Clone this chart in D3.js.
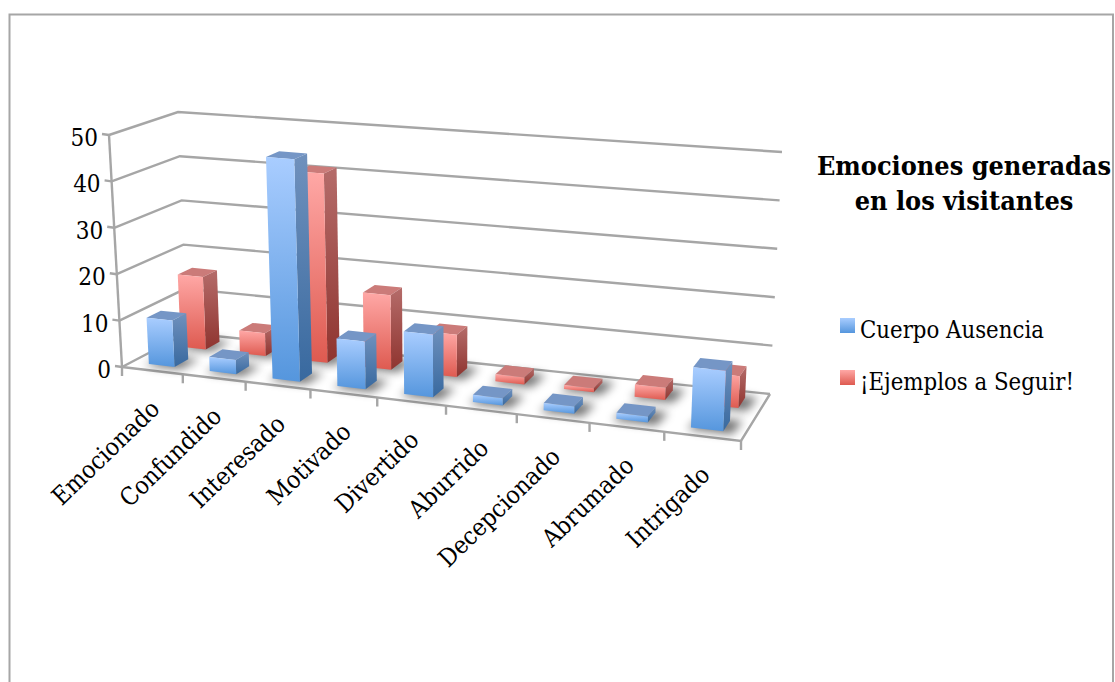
<!DOCTYPE html>
<html><head><meta charset="utf-8">
<script src="https://cdn.jsdelivr.net/npm/d3@7/dist/d3.min.js"></script>
<style>html,body{margin:0;background:#fff}svg{display:block}text{font-family:"DejaVu Serif Condensed","DejaVu Serif",serif;fill:#000}</style>
</head><body><svg id="c" width="1115" height="682"></svg>
<script>
const categories=["Emocionado","Confundido","Interesado","Motivado","Divertido","Aburrido","Decepcionado","Abrumado","Intrigado"];
const seriesNames=["Cuerpo Ausencia","¡Ejemplos a Seguir!"];
const cuerpoAusencia=[10,3,47,10,13,1.5,1.5,1.2,12];
const ejemplosASeguir=[16,5,41,16,9,1.5,0.8,2.5,6.5];
const yTicks=[0,10,20,30,40,50];

const svg=d3.select("#c");
const defs=svg.append("defs");
function grad(id,a,b){const g=defs.append("linearGradient").attr("id",id).attr("x1",0).attr("y1",0).attr("x2",0).attr("y2",1);
 g.append("stop").attr("offset",0).attr("stop-color",a);g.append("stop").attr("offset",1).attr("stop-color",b);}
grad("bf","#a9cdff","#5596dd");grad("bs","#7091bd","#38699f");
grad("rf","#ffa8a6","#de5a50");grad("rs","#b56c6a","#8f342f");
defs.append("filter").attr("id","blur").attr("x","-60%").attr("y","-60%").attr("width","220%").attr("height","220%")
 .append("feGaussianBlur").attr("stdDeviation",5);

// frame
svg.append("path").attr("d","M9.5 682V14.5H1113V682").attr("fill","none").attr("stroke","#a6a6a6").attr("stroke-width",2);

// projection: floor and ceiling quadrilaterals (front-left, front-right, back-right, back-left)
const floorQ=[[122,367],[741,441],[770,394],[187,333]];
const topQ=[[109,135],[752,186],[782,152],[178,112]];
const warp=u=>u*(.87+.13*u);
function quad(q){return (u,d)=>{const w=warp(u);
 const fx=q[0][0]+(q[1][0]-q[0][0])*w,fy=q[0][1]+(q[1][1]-q[0][1])*w;
 const bx=q[3][0]+(q[2][0]-q[3][0])*w,by=q[3][1]+(q[2][1]-q[3][1])*w;
 return [fx+(bx-fx)*d,fy+(by-fy)*d];};}
const hFloor=quad(floorQ),hTop=quad(topQ);
const yS=d3.scaleLinear().domain([0,50]).range([0,1]);
const uS=d3.scaleBand().domain(categories).range([0,1]);
const dS=d3.scalePoint().domain(seriesNames).range([.15,.65]);
const depth=.22,barW=.425;
const P=(u,d,v)=>{const a=hFloor(u,d),b=hTop(u,d),t=yS(v);return [a[0]+(b[0]-a[0])*t,a[1]+(b[1]-a[1])*t];};
const line=d3.line();
const grid="#a6a6a6";

// gridlines & walls
const g=svg.append("g").attr("fill","none").attr("stroke",grid).attr("stroke-width",2.4);
yTicks.forEach(t=>{g.append("path").attr("d",line([P(0,0,t),P(0,1,t),P(1,1,t)]));
 g.append("path").attr("d",line([P(0,0,t),[P(0,0,t)[0]-7,P(0,0,t)[1]-1]]));});
g.append("path").attr("d",line([P(0,0,0),P(0,0,50)]));
g.append("path").attr("d",line([P(0,0,0),P(1,0,0),P(1,1,0)]));
d3.range(categories.length+1).forEach(i=>{const p=P(i/categories.length,0,0);
 g.append("path").attr("d",line([p,[p[0],p[1]+9]]));});

// bars
const series=[{name:seriesNames[1],vals:ejemplosASeguir,f:"rf",s:"rs",t:"#cb7b79"},
              {name:seriesNames[0],vals:cuerpoAusencia,f:"bf",s:"bs",t:"#7596c6"}];
series.forEach(sr=>{
 const d0=dS(sr.name),d1=d0+depth;
 const layer=svg.append("g");
 categories.forEach((c,i)=>{
  const u0=uS(c)+uS.bandwidth()*(1-barW)/2,u1=u0+uS.bandwidth()*barW,v=sr.vals[i];
  layer.append("path").attr("d",line([P(u0-.004,d0-.04,0),P(u1+.014,d0-.04,0),P(u1+.018,d1+.03,0),P(u0+.004,d1+.03,0)])+"Z")
   .attr("fill","#000").attr("opacity",.55).attr("filter","url(#blur)");
  layer.append("path").attr("d",line([P(u0,d0,v),P(u1,d0,v),P(u1,d1,v),P(u0,d1,v)])+"Z").attr("fill",sr.t);
  layer.append("path").attr("d",line([P(u1,d0,0),P(u1,d1,0),P(u1,d1,v),P(u1,d0,v)])+"Z").attr("fill",`url(#${sr.s})`);
  layer.append("path").attr("d",line([P(u0,d0,0),P(u1,d0,0),P(u1,d0,v),P(u0,d0,v)])+"Z").attr("fill",`url(#${sr.f})`);
 });
});

// y labels
yTicks.forEach(t=>{const p=P(0,0,t);
 svg.append("text").attr("x",p[0]-11).attr("y",p[1]+11).attr("text-anchor","end").attr("font-size",24).text(t);});
// x labels
categories.forEach((c,i)=>{const p=P((i+.5)/categories.length,0,0);
 svg.append("text").attr("transform",`translate(${p[0]+9},${p[1]+40}) rotate(-44)`).attr("text-anchor","end").attr("font-size",24.6).text(c);});
// title
svg.append("text").attr("x",964).attr("y",175).attr("text-anchor","middle").attr("font-size",26.8).attr("font-weight","bold").text("Emociones generadas");
svg.append("text").attr("x",964).attr("y",210).attr("text-anchor","middle").attr("font-size",26.8).attr("font-weight","bold").text("en los visitantes");
// legend
[[seriesNames[0],"bf",318,338],[seriesNames[1],"rf",370,390]].forEach(([n,f,y,ty])=>{
 svg.append("rect").attr("x",840).attr("y",y).attr("width",15).attr("height",15).attr("fill",`url(#${f})`);
 svg.append("text").attr("x",860).attr("y",ty).attr("font-size",23.7).text(n);});
</script></body></html>
